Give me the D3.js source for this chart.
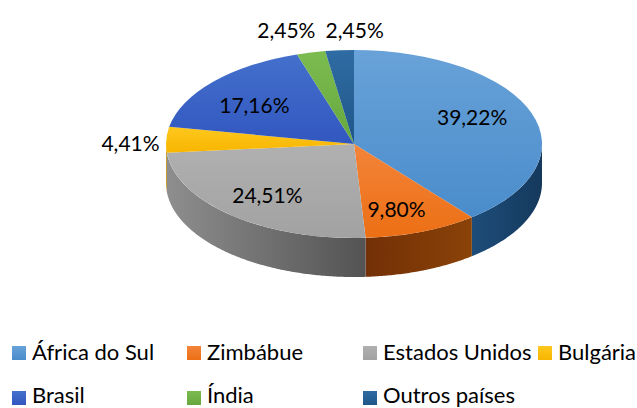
<!DOCTYPE html>
<html>
<head>
<meta charset="utf-8">
<script src="https://cdnjs.cloudflare.com/ajax/libs/d3/7.8.5/d3.min.js"></script>
<style>
  html, body { margin: 0; padding: 0; background: #fff; }
  text { font-family: Lato, "Open Sans", sans-serif; fill: #000; }
</style>
</head>
<body>
<script>
var categories = ["África do Sul", "Zimbábue", "Estados Unidos", "Bulgária", "Brasil", "Índia", "Outros países"];
var values = [39.22, 9.80, 24.51, 4.41, 17.16, 2.45, 2.45];
var valueLabels = ["39,22%", "9,80%", "24,51%", "4,41%", "17,16%", "2,45%", "2,45%"];

// colours: top face light -> dark, wall left -> right
var topLight = ["#68a2d8", "#f3843a", "#b0b0b0", "#ffc81e", "#4470cc", "#7cbb50", "#2f6ca3"];
var topDark = ["#4a8ccb", "#ec6f14", "#a2a2a2", "#f7b500", "#3257c0", "#66a83e", "#1f5688"];
var wallLeft = ["#1d4d7a", "#733006", "#8e8e8e", "#b98c00", "#2b4a8c", "#4f7a31", "#1a4266"];
var wallRight = ["#15395c", "#8a4208", "#535353", "#b98c00", "#2b4a8c", "#4f7a31", "#1a4266"];

// label placement
var labelRadius = [0.7, 0.7, 0.7, 1.19, 0.7, 1.2, 1.2];
var labelNudgeX = [-6, -5, -1, 0, -1, -16, 18];
var labelNudgeY = [-6, 3, 1, 4, 4, -5, -2];

// legend layout
var legendCols = [12, 187, 363, 538];
var legendRows = [353, 398];
var legendBaselines = [360, 403];
var legendCol = [0, 1, 2, 3, 0, 1, 2];
var legendRow = [0, 0, 0, 0, 1, 1, 1];

var width = 637, height = 408;
var cx = 354, cy = 144, rx = 188, ry = 94, depth = 39;

var svg = d3.select("body").append("svg")
    .attr("width", width)
    .attr("height", height)
    .style("display", "block");

var defs = svg.append("defs");

function gradient(id, c1, c2, horizontal) {
    var g = defs.append("linearGradient")
        .attr("id", id)
        .attr("x1", 0).attr("y1", 0)
        .attr("x2", horizontal ? 1 : 0)
        .attr("y2", horizontal ? 0 : 1);
    g.append("stop").attr("offset", "0%").attr("stop-color", c1);
    g.append("stop").attr("offset", "100%").attr("stop-color", c2);
}

categories.forEach(function (c, i) {
    gradient("top" + i, topLight[i], topDark[i], false);
    gradient("wall" + i, wallLeft[i], wallRight[i], true);
});

var slices = d3.pie().sort(null).value(function (d) { return d; })(values);

// walls of the front half only
var front = [Math.PI / 2, Math.PI * 3 / 2];

function px(a) { return cx + rx * Math.sin(a); }
function py(a) { return cy - ry * Math.cos(a); }

var wallLine = d3.line();

svg.append("g").selectAll("path")
    .data(slices.filter(function (s) {
        return s.endAngle > front[0] && s.startAngle < front[1];
    }))
    .enter()
    .append("path")
    .attr("d", function (s) {
        var a0 = Math.max(s.startAngle, front[0]);
        var a1 = Math.min(s.endAngle, front[1]);
        var angles = d3.range(a0, a1, 0.01).concat([a1]);
        var top = angles.map(function (a) { return [px(a), py(a)]; });
        var bottom = angles.slice().reverse().map(function (a) { return [px(a), py(a) + depth]; });
        return wallLine(top.concat(bottom)) + "Z";
    })
    .attr("fill", function (s) { return "url(#wall" + s.index + ")"; });

// top face, a circle squashed to an ellipse
var arc = d3.arc().innerRadius(0).outerRadius(rx);

svg.append("g")
    .attr("transform", "translate(" + cx + "," + cy + ") scale(1," + (ry / rx) + ")")
    .selectAll("path")
    .data(slices)
    .enter()
    .append("path")
    .attr("d", arc)
    .attr("fill", function (s) { return "url(#top" + s.index + ")"; });

svg.append("g").selectAll("text")
    .data(slices)
    .enter()
    .append("text")
    .attr("x", function (s) {
        return cx + rx * labelRadius[s.index] * Math.sin((s.startAngle + s.endAngle) / 2) + labelNudgeX[s.index];
    })
    .attr("y", function (s) {
        return cy - ry * labelRadius[s.index] * Math.cos((s.startAngle + s.endAngle) / 2) + labelNudgeY[s.index];
    })
    .attr("text-anchor", "middle")
    .attr("dominant-baseline", "central")
    .style("font-size", "21px")
    .text(function (s) { return valueLabels[s.index]; });

var legend = svg.append("g").selectAll("g")
    .data(categories)
    .enter()
    .append("g")
    .attr("transform", function (d, i) {
        return "translate(" + legendCols[legendCol[i]] + ",0)";
    });

legend.append("rect")
    .attr("x", 0)
    .attr("y", function (d, i) { return legendRows[legendRow[i]] - 7; })
    .attr("width", 14).attr("height", 14)
    .attr("fill", function (d, i) { return "url(#top" + i + ")"; });

legend.append("text")
    .attr("x", 20)
    .attr("y", function (d, i) { return legendBaselines[legendRow[i]]; })
    .style("font-size", "22px")
    .text(function (d) { return d; });
</script>
</body>
</html>
